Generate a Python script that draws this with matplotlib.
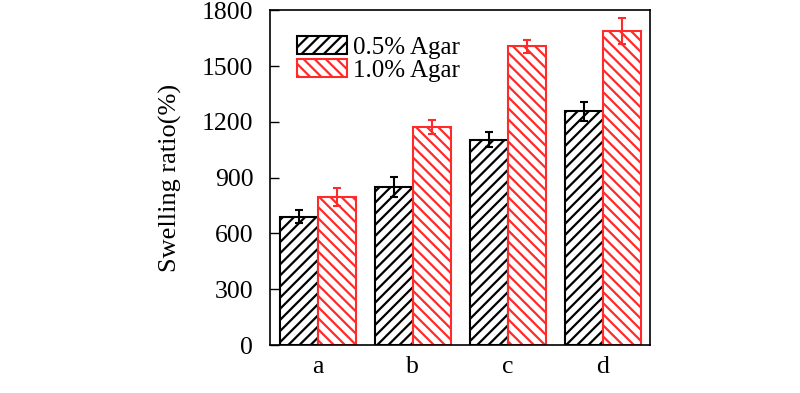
import numpy as np
import matplotlib
matplotlib.use("Agg")
from matplotlib import pyplot as plt

plt.rcParams['font.family'] = ['Liberation Serif', 'DejaVu Serif']
plt.rcParams['hatch.linewidth'] = 1.6

# 数据
groups = ["a", "b", "c", "d"]
agar_05 = [690, 850, 1103, 1256]
agar_05_err = [35, 55, 40, 52]
agar_10 = [796, 1173, 1605, 1688]
agar_10_err = [48, 36, 36, 72]

red = "#ff2a2a"

fig = plt.figure(figsize=(8, 3.93), dpi=100)
ax = fig.add_axes([0.3375, 0.122, 0.475, 0.852])

x = np.arange(len(groups))
w = 0.4

b1 = ax.bar(x - w / 2, agar_05, w, color="white", edgecolor="black", hatch="///",
            linewidth=1.5, label="0.5% Agar")
ax.errorbar(x - w / 2, agar_05, yerr=agar_05_err, fmt="none", ecolor="black",
            elinewidth=1.5, capsize=3, capthick=1.5)
b2 = ax.bar(x + w / 2, agar_10, w, color="white", edgecolor=red, hatch="\\\\\\",
            linewidth=1.5, label="1.0% Agar")
for p in b2:
    p._hatch_color = matplotlib.colors.to_rgba(red)
ax.errorbar(x + w / 2, agar_10, yerr=agar_10_err, fmt="none", ecolor=red,
            elinewidth=1.5, capsize=3, capthick=1.5)

ax.set_xlim(-0.5, 3.5)
ax.set_ylim(0, 1800)
ax.set_yticks(np.arange(0, 1801, 300))
ax.set_xticks(x)
ax.set_xticklabels(groups)
ax.tick_params(axis="y", direction="in", length=6.5, width=1, labelsize=18.5, pad=12)
ax.tick_params(axis="x", length=0, labelsize=18.5, pad=8)
for s in ax.spines.values():
    s.set_linewidth(1.2)
ax.set_ylabel("Swelling ratio(%)", fontsize=19, labelpad=14)

leg = ax.legend(loc="upper left", frameon=False, fontsize=18, handlelength=2.0,
                handleheight=0.75, handletextpad=0.25, labelspacing=0.0,
                borderaxespad=0.3, bbox_to_anchor=(0.025, 0.975))
for h in leg.legend_handles[1:]:
    h._hatch_color = matplotlib.colors.to_rgba(red)

plt.savefig("out.png", dpi=100)
